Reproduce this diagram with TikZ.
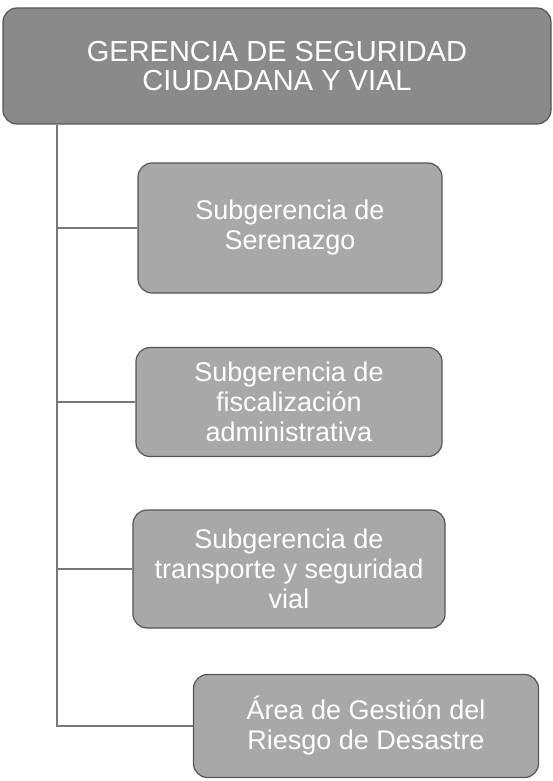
\documentclass[tikz,border=0pt]{standalone}
\usepackage{fontspec}
\setmainfont{Liberation Sans}
\usepackage{xcolor}
\usetikzlibrary{positioning,calc}
\definecolor{headgray}{RGB}{138,138,138}
\definecolor{subgray}{RGB}{168,168,168}
\definecolor{edgegray}{RGB}{85,85,85}
\definecolor{linegray}{RGB}{120,120,120}

\begin{document}
\begin{tikzpicture}[x=1pt,y=-1pt,
    headbox/.style={draw=edgegray, line width=1.2pt, rounded corners=14pt, fill=headgray, text=white, align=center, font=\fontsize{29}{29}\selectfont},
    unitbox/.style={draw=edgegray, line width=1.2pt, rounded corners=14pt, fill=subgray, text=white, align=center, font=\fontsize{27}{30}\selectfont},
    branch/.style={draw=linegray, line width=1.3pt}]
    \useasboundingbox (0,0) rectangle (553,781);

    \node[headbox, minimum width=548pt, minimum height=116pt] (gerencia) at (277,66) {GERENCIA DE SEGURIDAD\\CIUDADANA Y VIAL};
    \node[unitbox, minimum width=304pt, minimum height=130pt] (serenazgo) at (290,228) {Subgerencia de\\Serenazgo};
    \node[unitbox, minimum width=306pt, minimum height=109pt] (fiscal) at (289,402) {Subgerencia de\\fiscalización\\administrativa};
    \node[unitbox, minimum width=312pt, minimum height=118pt] (transporte) at (289,569) {Subgerencia de\\transporte y seguridad\\vial};
    \node[unitbox, minimum width=345pt, minimum height=103pt] (riesgo) at (366,726) {Área de Gestión del\\Riesgo de Desastre};

    \coordinate (trunk) at (57,726);
    \draw[branch] (gerencia.south -| trunk) |- (riesgo.west);
    \draw[branch] (trunk |- serenazgo.west) -- (serenazgo.west);
    \draw[branch] (trunk |- fiscal.west) -- (fiscal.west);
    \draw[branch] (trunk |- transporte.west) -- (transporte.west);
\end{tikzpicture}
\end{document}
